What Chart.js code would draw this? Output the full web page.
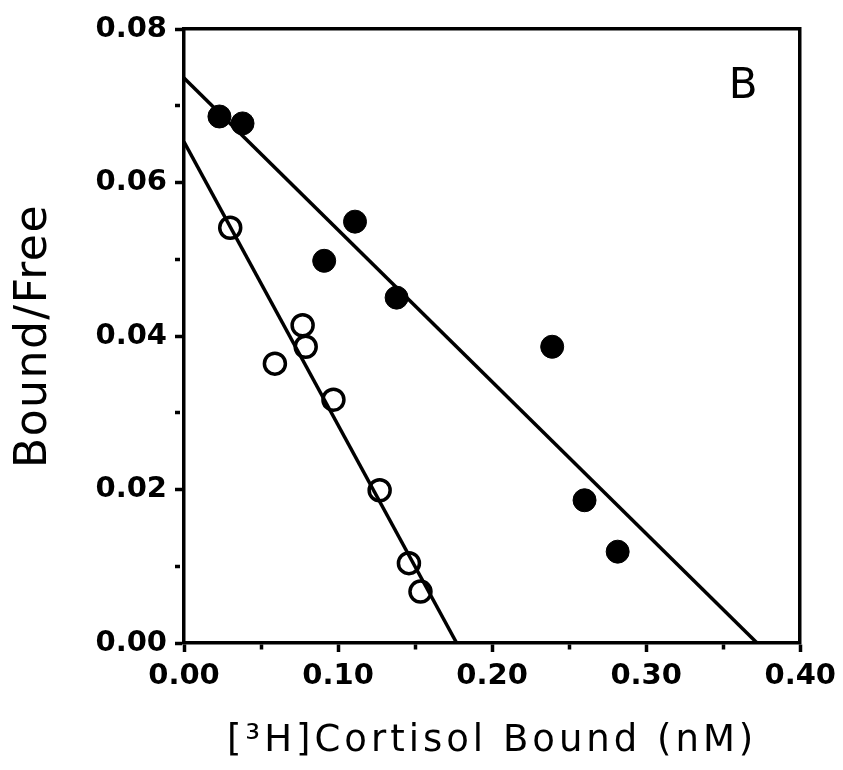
<!DOCTYPE html>
<html>
<head>
<meta charset="utf-8">
<script src="https://cdn.jsdelivr.net/npm/chart.js@4/dist/chart.umd.min.js"></script>
<style>
  html, body { margin: 0; padding: 0; background: #fff; }
  canvas { display: block; }
</style>
</head>
<body>
<canvas id="scatchard" width="843" height="770"></canvas>
<script>
// Scatchard plot, panel B
const filledX = [0.023, 0.038, 0.091, 0.111, 0.138, 0.239, 0.260, 0.2815];
const filledY = [0.0686, 0.0677, 0.0498, 0.0549, 0.0450, 0.0386, 0.0186, 0.0119];
const openX = [0.030, 0.059, 0.077, 0.079, 0.097, 0.127, 0.146, 0.1535];
const openY = [0.0541, 0.0364, 0.0414, 0.0386, 0.0317, 0.0199, 0.0104, 0.0067];

// fitted lines: [y-intercept end, x-intercept end]
const filledFitX = [0, 0.372];
const filledFitY = [0.0736, 0];
const openFitX = [0, 0.177];
const openFitY = [0.0653, 0];

const xLabeled = [0, 0.1, 0.2, 0.3, 0.4];
const yLabeled = [0, 0.02, 0.04, 0.06, 0.08];

const X_TITLE = '[³H]Cortisol Bound (nM)';
const Y_TITLE = 'Bound/Free';
const PANEL_LABEL = 'B';

const pts = (xs, ys) => xs.map((x, i) => ({ x, y: ys[i] }));
const isLabeled = (list, v) => list.some(t => Math.abs(t - v) < 1e-6);

const TITLE_SPACING = { x: '4px', y: '1.5px' };

const spacedTitles = {
    id: 'spacedTitles',
    afterUpdate(chart) {
        Object.values(chart.scales).forEach(s => {
            if (s._spaced) return;
            const orig = s.drawTitle;
            s.drawTitle = function () {
                chart.ctx.save();
                chart.ctx.letterSpacing = TITLE_SPACING[s.id] || '0px';
                orig.call(this);
                chart.ctx.restore();
            };
            s._spaced = true;
        });
    }
};

const panelLabel = {
    id: 'panelLabel',
    afterDraw(chart) {
        const { ctx, scales: { x, y } } = chart;
        ctx.save();
        ctx.font = '42px "DejaVu Sans"';
        ctx.fillStyle = '#000';
        ctx.textAlign = 'center';
        ctx.textBaseline = 'middle';
        ctx.fillText(PANEL_LABEL, x.getPixelForValue(0.363), y.getPixelForValue(0.0724));
        ctx.restore();
    }
};

const tickFont = { family: '"DejaVu Sans"', size: 29, weight: 'bold' };
const minorDash = ctx => isLabeled(ctx.chart.options.scales[ctx.scale.id]._labeled, ctx.tick.value) ? [] : [5, 30];

const ctx = document.getElementById('scatchard').getContext('2d');
new Chart(ctx, {
    type: 'scatter',
    data: {
        datasets: [
            {
                label: 'filled fit',
                data: pts(filledFitX, filledFitY),
                showLine: true,
                borderColor: '#000',
                borderWidth: 3.5,
                pointRadius: 0
            },
            {
                label: 'open fit',
                data: pts(openFitX, openFitY),
                showLine: true,
                borderColor: '#000',
                borderWidth: 3.5,
                pointRadius: 0
            },
            {
                label: 'filled',
                data: pts(filledX, filledY),
                backgroundColor: '#000',
                borderColor: '#000',
                borderWidth: 1,
                pointRadius: 11.5
            },
            {
                label: 'open',
                data: pts(openX, openY),
                backgroundColor: 'rgba(0,0,0,0)',
                borderColor: '#000',
                borderWidth: 3.5,
                pointRadius: 10.5
            }
        ]
    },
    options: {
        responsive: false,
        animation: false,
        devicePixelRatio: 1,
        layout: { padding: { top: 29, right: 41, left: 0, bottom: 0 } },
        plugins: { legend: { display: false }, tooltip: { enabled: false } },
        scales: {
            x: {
                type: 'linear',
                position: 'bottom',
                min: 0, max: 0.4,
                _labeled: xLabeled,
                afterFit: s => { s.height = 127; },
                border: { display: true, color: '#000', width: 3.5 },
                grid: {
                    drawOnChartArea: false,
                    tickLength: 9, tickWidth: 3.5, tickColor: '#000',
                    tickBorderDash: minorDash
                },
                ticks: {
                    stepSize: 0.05,
                    autoSkip: false,
                    maxRotation: 0,
                    padding: 7,
                    color: '#000',
                    font: tickFont,
                    callback: v => isLabeled(xLabeled, v) ? v.toFixed(2) : ''
                },
                title: {
                    display: true,
                    text: X_TITLE,
                    color: '#000',
                    font: { family: '"DejaVu Sans"', size: 37 },
                    padding: { top: 0, bottom: 6 }
                }
            },
            y: {
                type: 'linear',
                position: 'left',
                min: 0, max: 0.08,
                _labeled: yLabeled,
                afterFit: s => { s.width = 184; },
                border: { display: true, color: '#000', width: 3.5 },
                grid: {
                    drawOnChartArea: false,
                    tickLength: 9, tickWidth: 3.5, tickColor: '#000',
                    tickBorderDash: minorDash
                },
                ticks: {
                    stepSize: 0.01,
                    autoSkip: false,
                    padding: 8,
                    color: '#000',
                    font: tickFont,
                    callback: v => isLabeled(yLabeled, v) ? v.toFixed(2) : ''
                },
                title: {
                    display: true,
                    text: Y_TITLE,
                    color: '#000',
                    font: { family: '"DejaVu Sans"', size: 44 },
                    padding: { top: 8, bottom: 0 }
                }
            },
            x2: {
                type: 'linear',
                position: 'top',
                min: 0, max: 0.4,
                afterFit: s => { s.height = 0; },
                border: { display: true, color: '#000', width: 3.5 },
                grid: { display: false, drawTicks: false },
                ticks: { display: false }
            },
            y2: {
                type: 'linear',
                position: 'right',
                min: 0, max: 0.08,
                afterFit: s => { s.width = 0; },
                border: { display: true, color: '#000', width: 3.5 },
                grid: { display: false, drawTicks: false },
                ticks: { display: false }
            }
        }
    },
    plugins: [spacedTitles, panelLabel]
});
</script>
</body>
</html>
